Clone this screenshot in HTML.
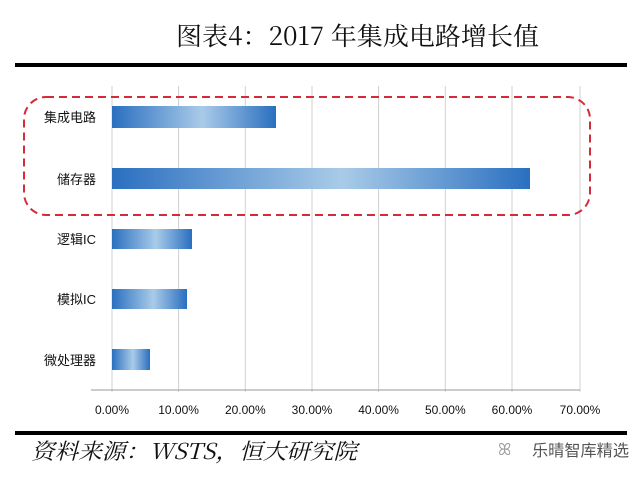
<!DOCTYPE html>
<html><head><meta charset="utf-8"><style>
body{margin:0;width:640px;height:472px;background:#fff;overflow:hidden;font-family:"Liberation Sans","Noto Sans CJK SC",sans-serif}
</style></head><body>
<svg width="640" height="472" xmlns="http://www.w3.org/2000/svg">
<defs><linearGradient id="g" x1="0" x2="1" y1="0" y2="0">
<stop offset="0" stop-color="#2a6fc0"/><stop offset="0.55" stop-color="#a9cbe8"/><stop offset="1" stop-color="#2a6fc0"/></linearGradient></defs>
<text x="176" y="45" font-family="'Noto Serif CJK SC',serif" font-size="25" textLength="363" lengthAdjust="spacingAndGlyphs" fill="#111">图表4：2017 年集成电路增长值</text>
<rect x="15" y="63" width="612" height="4" fill="#000"/>
<g stroke="#d0d0d0" stroke-width="1">
<line x1="112" y1="86" x2="112" y2="392"/><line x1="178.6" y1="86" x2="178.6" y2="392"/><line x1="245.3" y1="86" x2="245.3" y2="392"/><line x1="312" y1="86" x2="312" y2="392"/><line x1="378.6" y1="86" x2="378.6" y2="392"/><line x1="445.3" y1="86" x2="445.3" y2="392"/><line x1="512" y1="86" x2="512" y2="392"/><line x1="580" y1="86" x2="580" y2="392"/>
<line x1="91" y1="390" x2="580" y2="390" stroke="#999"/>
</g>
<rect x="112" y="106" width="164" height="22" fill="url(#g)"/>
<rect x="112" y="168" width="418" height="21" fill="url(#g)"/>
<rect x="112" y="229" width="80" height="20" fill="url(#g)"/>
<rect x="112" y="289" width="75" height="20" fill="url(#g)"/>
<rect x="112" y="349" width="38" height="21" fill="url(#g)"/>
<rect x="24" y="97" width="566" height="118" rx="22" fill="none" stroke="#d42a3a" stroke-width="2" stroke-dasharray="8,5"/>
<g font-size="13" fill="#111" text-anchor="end">
<text x="96" y="122">集成电路</text><text x="96" y="184">储存器</text><text x="96" y="244">逻辑IC</text><text x="96" y="304">模拟IC</text><text x="96" y="365">微处理器</text>
</g>
<g font-size="12" fill="#111" text-anchor="middle">
<text x="112" y="414">0.00%</text><text x="178.6" y="414">10.00%</text><text x="245.3" y="414">20.00%</text><text x="312" y="414">30.00%</text><text x="378.6" y="414">40.00%</text><text x="445.3" y="414">50.00%</text><text x="512" y="414">60.00%</text><text x="580" y="414">70.00%</text>
</g>
<rect x="15" y="431" width="612" height="4" fill="#000"/>
<text x="31" y="459" font-size="22" font-style="italic" fill="#111" font-family="'Noto Serif CJK SC',serif" textLength="326" lengthAdjust="spacingAndGlyphs">资料来源：WSTS，恒大研究院</text>
<text x="498" y="455" font-size="16" fill="#999">ꕤ</text>
<text x="532" y="456" font-size="16" fill="#555" textLength="97" lengthAdjust="spacingAndGlyphs">乐晴智库精选</text>
</svg>
</body></html>
